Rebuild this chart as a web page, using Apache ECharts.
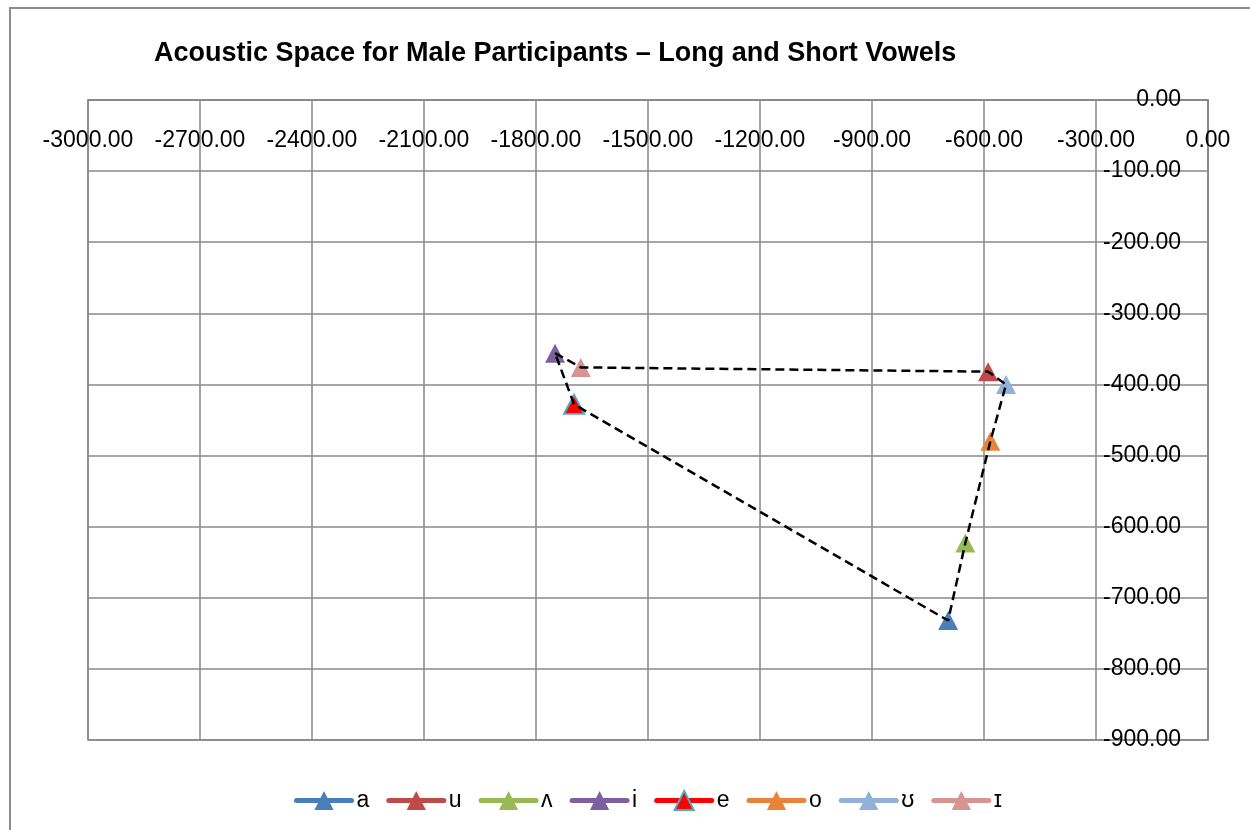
<!DOCTYPE html>
<html>
<head>
<meta charset="utf-8">
<script src="https://cdn.jsdelivr.net/npm/echarts@6/dist/echarts.min.js"></script>
<style>html,body{margin:0;padding:0;background:#fff;}#chart{width:1250px;height:830px;}</style>
</head>
<body>
<div id="chart"></div>
<script>
// Vowel labels, F2 (x, negated) and F1 (y, negated)
const vowels = ['a', 'u', 'ʌ', 'i', 'e', 'o', 'ʊ', 'ɪ'];
const f2Values = [-696, -589, -650, -1749, -1698, -583, -541, -1680];
const f1Values = [-732, -382, -623, -356, -428, -480, -400, -376];
// order of the dashed outline through the vowels
const outlineOrder = ['i', 'ɪ', 'u', 'ʊ', 'o', 'ʌ', 'a', 'e', 'i'];
const colors = ['#4A7EBB', '#BE4B48', '#98B954', '#7D60A0', '#FF0000', '#E8843A', '#92B1D6', '#D79491'];
const xTicks = { min: -3000, max: 0, interval: 300 };
const yTicks = { min: -900, max: 0, interval: 100 };

const FONT = 'Liberation Sans';
const GRID_COLOR = '#888888';

const series = vowels.map((v, i) => ({
  name: v,
  type: 'line',
  data: [[f2Values[i], f1Values[i]]],
  symbol: 'triangle',
  symbolSize: [20, 19],
  showSymbol: true,
  itemStyle: v === 'e'
    ? { color: colors[i], borderColor: '#4BACC6', borderWidth: 2 }
    : { color: colors[i] },
  lineStyle: { color: colors[i], width: 5, cap: 'round' },
  z: 2 + i
}));

series.push({
  name: 'outline',
  type: 'line',
  data: outlineOrder.map(v => {
    const k = vowels.indexOf(v);
    return [f2Values[k], f1Values[k]];
  }),
  symbol: 'none',
  lineStyle: { color: '#000', width: 2.5, type: [9, 5] },
  z: 20,
  silent: true
});

const chart = echarts.init(document.getElementById('chart'), null, { renderer: 'canvas' });
chart.setOption({
  animation: false,
  backgroundColor: '#fff',
  title: {
    text: 'Acoustic Space for Male Participants \u2013 Long and Short Vowels',
    left: 149,
    top: 35,
    textStyle: { fontFamily: FONT, fontWeight: 'bold', fontSize: 27, color: '#000' }
  },
  graphic: [{
    type: 'rect',
    shape: { x: 10, y: 8, width: 1400, height: 1000 },
    style: { fill: 'none', stroke: '#8C8C8C', lineWidth: 2 },
    silent: true
  }],
  legend: {
    data: vowels,
    left: 289,
    top: 784,
    itemWidth: 55,
    itemHeight: 24,
    itemGap: 17,
    lineStyle: { width: 5, cap: 'round' },
    textStyle: { fontFamily: FONT, fontSize: 23, color: '#000' }
  },
  grid: {
    left: 88, right: 42, top: 100, bottom: 90,
    show: true, borderColor: GRID_COLOR, borderWidth: 1.5
  },
  xAxis: {
    type: 'value',
    position: 'top',
    min: xTicks.min, max: xTicks.max, interval: xTicks.interval,
    axisLine: { show: true, onZero: false, lineStyle: { color: GRID_COLOR, width: 1.5 } },
    axisTick: { show: false },
    axisLabel: {
      inside: true, margin: 29,
      fontFamily: FONT, fontSize: 23, color: '#000',
      formatter: v => v.toFixed(2)
    },
    splitLine: { show: true, lineStyle: { color: GRID_COLOR, width: 1.5 } }
  },
  yAxis: {
    type: 'value',
    position: 'right',
    min: yTicks.min, max: yTicks.max, interval: yTicks.interval,
    axisLine: { show: true, onZero: false, lineStyle: { color: GRID_COLOR, width: 1.5 } },
    axisTick: { show: false },
    axisLabel: {
      inside: true, margin: 27,
      fontFamily: FONT, fontSize: 23, color: '#000',
      formatter: v => v.toFixed(2)
    },
    splitLine: { show: true, lineStyle: { color: GRID_COLOR, width: 1.5 } }
  },
  series: series
});
</script>
</body>
</html>
